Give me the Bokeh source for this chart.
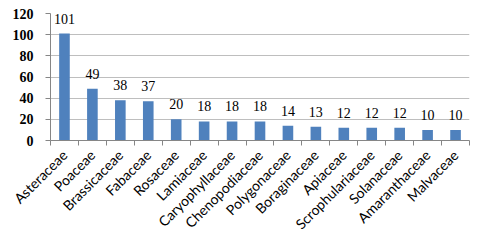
import math
from bokeh.plotting import figure
from bokeh.models import ColumnDataSource, Range1d, FixedTicker, LabelSet
from bokeh.embed import file_html
from bokeh.resources import INLINE

families = ["Asteraceae", "Poaceae", "Brassicaceae", "Fabaceae", "Rosaceae",
            "Lamiaceae", "Caryophyllaceae", "Chenopodiaceae", "Polygonaceae",
            "Boraginaceae", "Apiaceae", "Scrophulariaceae", "Solanaceae",
            "Amaranthaceae", "Malvaceae"]
counts = [101, 49, 38, 37, 20, 18, 18, 18, 14, 13, 12, 12, 12, 10, 10]
y_ticks = [0, 20, 40, 60, 80, 100, 120]

xs = [i + 0.5 for i in range(len(families))]
src = ColumnDataSource(dict(x=xs, top=counts, lbl=[str(c) for c in counts]))

p = figure(width=476, height=244, output_backend="svg", toolbar_location=None,
           x_range=Range1d(0, len(families)), y_range=Range1d(0, 120),
           min_border_left=50, min_border_right=7, min_border_top=13,
           min_border_bottom=104)
p.outline_line_color = None
p.background_fill_color = "white"

p.vbar(x="x", top="top", bottom=0, width=0.38, source=src,
       fill_color="#4F81BD", line_color=None)

labels = LabelSet(x="x", y="top", text="lbl", source=src, y_offset=10,
                  text_align="center", text_baseline="bottom",
                  text_font="Liberation Serif", text_font_size="14px",
                  text_color="black")
p.add_layout(labels)

# x axis
p.xaxis.ticker = FixedTicker(ticks=xs, minor_ticks=list(range(len(families) + 1)))
p.xaxis.major_label_overrides = {x: f for x, f in zip(xs, families)}
p.xaxis.major_label_orientation = math.pi / 4
p.xaxis.major_tick_line_color = None
p.xaxis.minor_tick_line_color = "#868686"
p.xaxis.minor_tick_out = 5
p.xaxis.minor_tick_in = 0
p.xaxis.axis_line_color = "#868686"
p.xaxis.major_label_text_font = "Lato"
p.xaxis.major_label_text_font_size = "14px"
p.xaxis.major_label_text_color = "#000000"
p.xaxis.major_label_standoff = 6
p.xgrid.grid_line_color = None

# y axis
p.yaxis.ticker = FixedTicker(ticks=y_ticks)
p.yaxis.minor_tick_line_color = None
p.yaxis.major_tick_out = 5
p.yaxis.major_tick_in = 0
p.yaxis.major_tick_line_color = "#868686"
p.yaxis.axis_line_color = "#868686"
p.yaxis.major_label_text_font = "Liberation Serif"
p.yaxis.major_label_text_font_style = "bold"
p.yaxis.major_label_text_font_size = "14px"
p.yaxis.major_label_text_color = "#000000"
p.yaxis.major_label_standoff = 12
p.ygrid.grid_line_color = "#BEBEBE"
p.ygrid.grid_line_width = 1

open("out.html", "w").write(file_html(p, INLINE))
